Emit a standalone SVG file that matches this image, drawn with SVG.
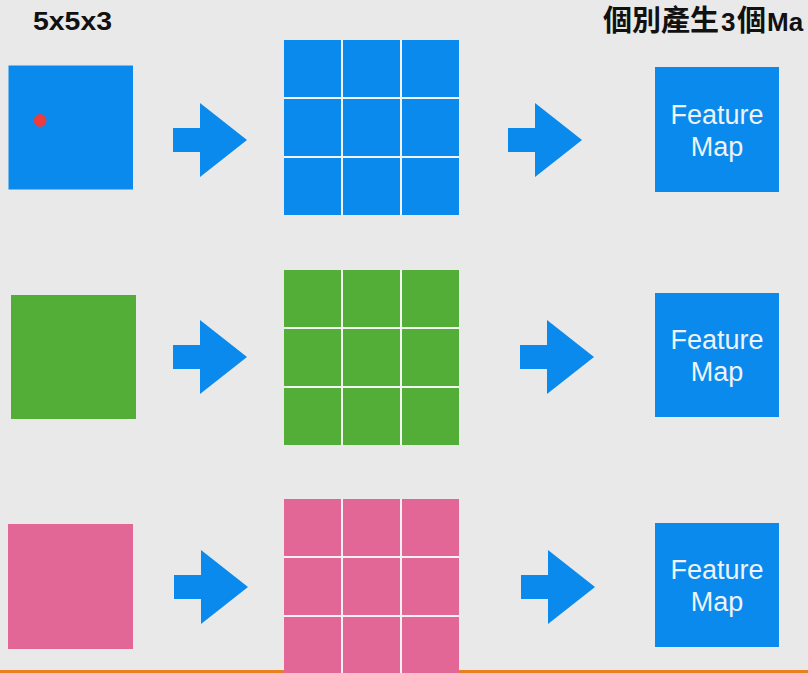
<svg xmlns="http://www.w3.org/2000/svg" xmlns:xlink="http://www.w3.org/1999/xlink" width="808" height="673" viewBox="0 0 808 673">
  <style>
    .blue { fill: #0a8aed; }
    .green { fill: #52ae36; }
    .pink { fill: #e36796; }
    .gridbg { fill: #f3f3f3; }
    .arrow { fill: #0a8aed; }
    .fm { font-family: "Liberation Sans", Arial, sans-serif; font-size: 27px; fill: #eef3f8; text-anchor: middle; }
    .title { font-family: "Liberation Sans", "Noto Sans CJK TC", sans-serif; font-weight: bold; fill: #111111; }
    .cjk { font-family: "Noto Sans CJK TC", sans-serif; font-size: 29px; }
    .lat { font-family: "Liberation Sans", sans-serif; font-size: 26px; }
  </style>
  <defs>
    <path id="arrowShape" d="M0,-12 H27 V-37 L74,0 L27,37 V12 H0 Z"/>
    <g id="cells">
      <rect x="0" y="0" width="57" height="57"/>
      <rect x="59" y="0" width="57" height="57"/>
      <rect x="118" y="0" width="57" height="57"/>
      <rect x="0" y="59" width="57" height="57"/>
      <rect x="59" y="59" width="57" height="57"/>
      <rect x="118" y="59" width="57" height="57"/>
      <rect x="0" y="118" width="57" height="57"/>
      <rect x="59" y="118" width="57" height="57"/>
      <rect x="118" y="118" width="57" height="57"/>
    </g>
  </defs>

  <rect x="0" y="0" width="808" height="673" fill="#e9e9e9"/>
  <rect x="0" y="670" width="808" height="3" fill="#e8801e"/>

  <g id="titles">
    <text class="title" x="33" y="30" font-size="26" textLength="79" lengthAdjust="spacingAndGlyphs">5x5x3</text>
    <text class="title" y="31"><tspan class="cjk" x="603">個別產生</tspan><tspan class="lat" x="721">3</tspan><tspan class="cjk" x="737">個</tspan><tspan class="lat" x="767">Ma</tspan></text>
  </g>

  <!-- Row 1 -->
  <g id="input-blue">
    <rect class="blue" x="8.5" y="65.5" width="124.5" height="124"/>
    <circle cx="40" cy="120.5" r="6" fill="#ee3b3d" stroke="#c9495e" stroke-width="1"/>
  </g>
  <g id="grid-blue">
    <rect class="gridbg" x="284" y="40" width="175" height="175"/>
    <use xlink:href="#cells" href="#cells" class="blue" transform="translate(284,40)"/>
  </g>
  <g id="fm-1">
    <rect class="blue" x="655" y="67" width="124" height="125"/>
    <text class="fm" x="717" y="123.5">Feature</text>
    <text class="fm" x="717" y="156">Map</text>
  </g>

  <!-- Row 2 -->
  <g id="input-green">
    <rect class="green" x="11" y="295" width="125" height="124"/>
  </g>
  <g id="grid-green">
    <rect class="gridbg" x="284" y="270" width="175" height="175"/>
    <use xlink:href="#cells" href="#cells" class="green" transform="translate(284,270)"/>
  </g>
  <g id="fm-2">
    <rect class="blue" x="655" y="293" width="124" height="124"/>
    <text class="fm" x="717" y="349">Feature</text>
    <text class="fm" x="717" y="381">Map</text>
  </g>

  <!-- Row 3 -->
  <g id="input-pink">
    <rect class="pink" x="8" y="524" width="125" height="125"/>
  </g>
  <g id="grid-pink">
    <rect class="gridbg" x="284" y="499" width="175" height="175"/>
    <use xlink:href="#cells" href="#cells" class="pink" transform="translate(284,499)"/>
  </g>
  <g id="fm-3">
    <rect class="blue" x="655" y="523" width="124" height="124"/>
    <text class="fm" x="717" y="579">Feature</text>
    <text class="fm" x="717" y="611">Map</text>
  </g>

  <g id="connectors" class="arrow">
    <use xlink:href="#arrowShape" href="#arrowShape" transform="translate(173,140)"/>
    <use xlink:href="#arrowShape" href="#arrowShape" transform="translate(508,140)"/>
    <use xlink:href="#arrowShape" href="#arrowShape" transform="translate(173,357)"/>
    <use xlink:href="#arrowShape" href="#arrowShape" transform="translate(520,357)"/>
    <use xlink:href="#arrowShape" href="#arrowShape" transform="translate(174,587)"/>
    <use xlink:href="#arrowShape" href="#arrowShape" transform="translate(521,587)"/>
  </g>
</svg>
